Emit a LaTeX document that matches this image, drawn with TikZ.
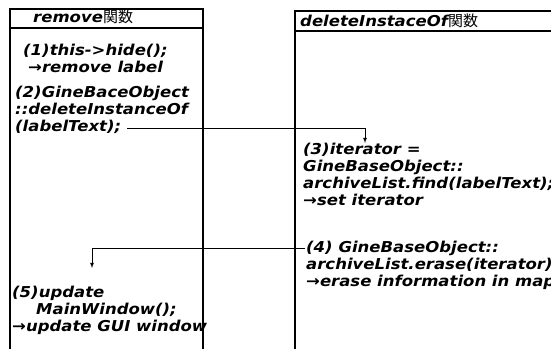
\documentclass[tikz,border=0pt]{standalone}
\usepackage{fontspec}
\setmainfont{DejaVu Sans}[FakeStretch=1.1]
\newfontfamily\cjk{Noto Sans CJK JP}
\usetikzlibrary{positioning}

\begin{document}
\begin{tikzpicture}[x=1pt, y=1pt, ->, >=latex,
    font=\bfseries\itshape\fontsize{15}{17}\selectfont]
  % Styles for the lanes and the texts
  \tikzset{lane/.style={-, line width=1.2pt},
    txt/.style={anchor=north west, align=left, inner sep=0pt},
    flow/.style={line width=0.8pt}}

  \useasboundingbox (0,0) rectangle (551,-348);

  % Draw the two lanes
  \draw[lane] (10,-350) |- (203,-9) -- (203,-350);
  \draw[lane] (10,-28) -- (203,-28);
  \draw[lane] (295,-350) |- (570,-11);
  \draw[lane] (295,-31) -- (570,-31);

  % Lane headers
  \node[txt, anchor=west] (hremove) at (33,-17) {remove{\cjk\mdseries\upshape 関数}};
  \node[txt, anchor=west] (hdelete) at (300,-21) {deleteInstaceOf{\cjk\mdseries\upshape 関数}};

  % Steps
  \node[txt] (s1) at (23,-44) {(1)this->hide();\\\hspace*{5pt}→remove label};
  \node[txt] (s2) at (15,-86) {(2)GineBaceObject\\::deleteInstanceOf\\(labelText);};
  \node[txt] (s3) at (303,-143) {(3)iterator =\\GineBaseObject::\\archiveList.find(labelText);\\→set iterator};
  \node[txt] (s4) at (306,-241) {(4) GineBaseObject::\\archiveList.erase(iterator);\\→erase information in map};
  \node[txt] (s5) at (12,-286) {(5)update\\\hspace*{24pt}MainWindow();\\→update GUI window};

  % Connect the steps
  \draw[flow] ([shift={(112,6)}]s2.south west) -| ([xshift=62pt]s3.north west);
  \draw[flow] ([shift={(-1,-7)}]s4.north west) -| ([shift={(80,18)}]s5.north west);
\end{tikzpicture}
\end{document}
